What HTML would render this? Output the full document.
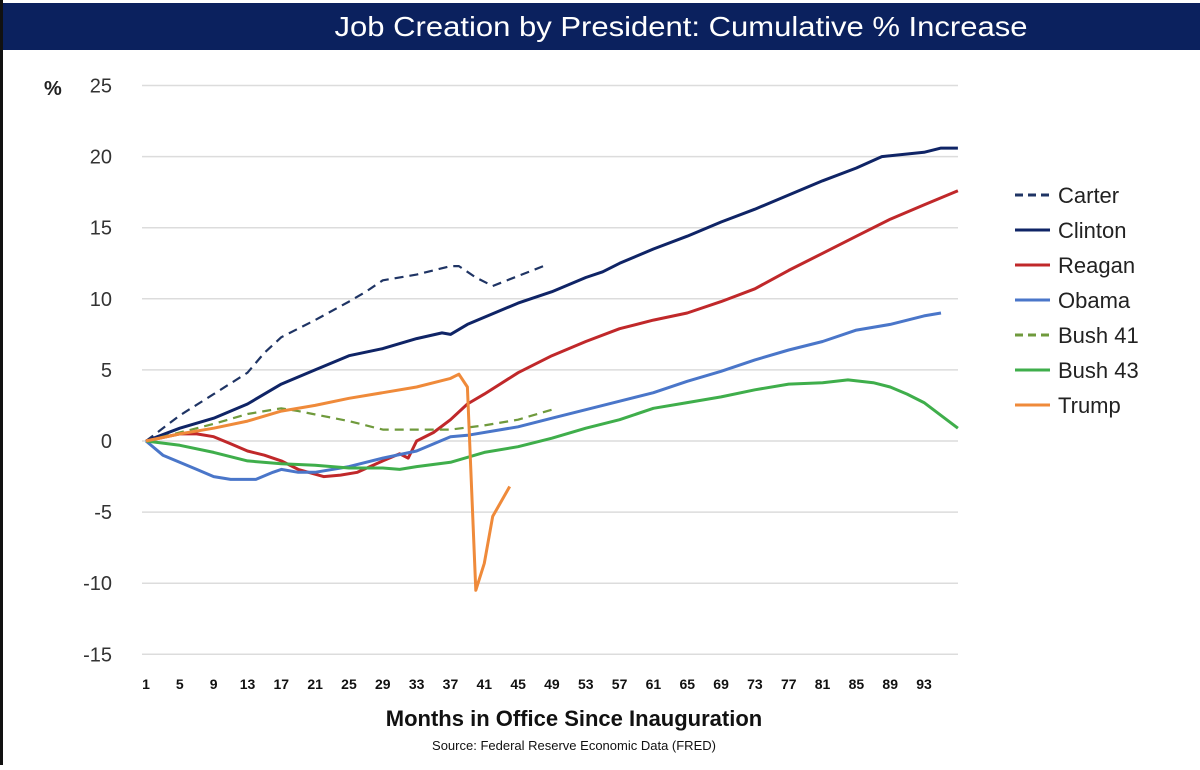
<!DOCTYPE html>
<html><head><meta charset="utf-8"><style>
html,body{margin:0;padding:0;background:#fff;}
svg text{font-family:"Liberation Sans",sans-serif;}
</style></head><body>
<svg id="chart" width="1200" height="765" viewBox="0 0 1200 765" xmlns="http://www.w3.org/2000/svg">
<rect x="0" y="0" width="1200" height="765" fill="#fff"/>
<rect x="0" y="3" width="1200" height="47" fill="#0b215e"/>
<rect x="0" y="0" width="3" height="765" fill="#111"/>
<text x="681" y="36" fill="#fff" font-size="28" text-anchor="middle" textLength="693" lengthAdjust="spacingAndGlyphs">Job Creation by President:  Cumulative % Increase</text>
<text x="44" y="95" font-size="20" font-weight="bold" fill="#222">%</text>
<g id="grid"></g><g id="yticks"></g><g id="xticks"></g><g id="series"></g><g id="legend"></g>
<text x="574" y="726" font-size="22" font-weight="bold" text-anchor="middle" fill="#111">Months in Office Since Inauguration</text>
<text x="574" y="750" font-size="13" text-anchor="middle" fill="#111">Source:  Federal Reserve Economic Data (FRED)</text>
</svg>
<script>
const yTicks=[25,20,15,10,5,0,-5,-10,-15];
const xTickLabels=[1,5,9,13,17,21,25,29,33,37,41,45,49,53,57,61,65,69,73,77,81,85,89,93];
const names=["Carter","Clinton","Reagan","Obama","Bush 41","Bush 43","Trump"];
const colors=["#1f3464","#0f2466","#c0282a","#4a76c9","#6f9a3c","#3fae4b","#ef8a3a"];
const dashed=[true,false,false,false,true,false,false];
const carterM=[1,5,9,13,15,17,21,25,27,29,33,37,38,40,42,45,48];
const carterV=[0,1.8,3.3,4.8,6.2,7.3,8.5,9.8,10.5,11.3,11.7,12.3,12.3,11.5,10.9,11.6,12.3];
const clintonM=[1,5,9,13,17,21,25,29,33,36,37,39,45,49,53,55,57,61,65,69,73,77,81,85,88,93,95,97];
const clintonV=[0,0.9,1.6,2.6,4.0,5.0,6.0,6.5,7.2,7.6,7.5,8.2,9.7,10.5,11.5,11.9,12.5,13.5,14.4,15.4,16.3,17.3,18.3,19.2,20.0,20.3,20.6,20.6];
const reaganM=[1,5,7,9,11,13,15,17,19,22,24,26,29,31,32,33,35,37,39,41,45,49,53,57,61,65,69,73,77,81,85,89,93,97];
const reaganV=[0,0.5,0.5,0.3,-0.2,-0.7,-1.0,-1.4,-2.0,-2.5,-2.4,-2.2,-1.4,-0.9,-1.2,0,0.6,1.5,2.6,3.3,4.8,6.0,7.0,7.9,8.5,9.0,9.8,10.7,12.0,13.2,14.4,15.6,16.6,17.6];
const obamaM=[1,3,7,9,11,14,16,17,19,21,25,29,33,37,39,45,49,53,57,61,65,69,73,77,81,85,89,93,95];
const obamaV=[0,-1.0,-2.0,-2.5,-2.7,-2.7,-2.2,-2.0,-2.2,-2.2,-1.8,-1.2,-0.7,0.3,0.4,1.0,1.6,2.2,2.8,3.4,4.2,4.9,5.7,6.4,7.0,7.8,8.2,8.8,9.0];
const bush41M=[1,5,9,13,17,19,25,29,33,37,41,45,49];
const bush41V=[0,0.6,1.2,1.9,2.3,2.1,1.4,0.8,0.8,0.8,1.1,1.5,2.2];
const bush43M=[1,5,9,13,17,21,25,29,31,33,37,41,45,49,53,57,61,65,69,73,77,81,84,87,89,91,93,95,97];
const bush43V=[0,-0.3,-0.8,-1.4,-1.6,-1.7,-1.9,-1.9,-2.0,-1.8,-1.5,-0.8,-0.4,0.2,0.9,1.5,2.3,2.7,3.1,3.6,4.0,4.1,4.3,4.1,3.8,3.3,2.7,1.8,0.9];
const trumpM=[1,5,9,13,17,21,25,29,33,37,38,39,40,41,42,44];
const trumpV=[0,0.5,0.9,1.4,2.1,2.5,3.0,3.4,3.8,4.4,4.7,3.8,-10.5,-8.6,-5.3,-3.2];
const months=[carterM,clintonM,reaganM,obamaM,bush41M,bush43M,trumpM];
const values=[carterV,clintonV,reaganV,obamaV,bush41V,bush43V,trumpV];
const NS="http://www.w3.org/2000/svg";
const X=m=>146+(m-1)*8.457;
const Y=v=>441-v*14.22;
function mk(tag,attrs,parent){const e=document.createElementNS(NS,tag);for(const k in attrs)e.setAttribute(k,attrs[k]);document.getElementById(parent).appendChild(e);return e;}
yTicks.forEach(t=>{
 const g=mk('line',{x1:142,x2:958,y1:Y(t),y2:Y(t),stroke:'#dcdcdc','stroke-width':1.5},'grid');
 
 
 const tx=mk('text',{x:112,y:Y(t)+7,'font-size':20,'text-anchor':'end',fill:'#333'},'yticks');
 tx.textContent=t;
 
 
});
xTickLabels.forEach(m=>{
 const tx=mk('text',{x:X(m),y:689,'font-size':14,'font-weight':'bold','text-anchor':'middle',fill:'#111'},'xticks');
 tx.textContent=m;
 
 
});
names.forEach((n,i)=>{
 const pts=months[i].map((m,j)=>X(m).toFixed(1)+','+Y(values[i][j]).toFixed(1)).join(' ');
 const p=mk('polyline',{points:pts,fill:'none',stroke:colors[i],'stroke-width':3,'stroke-linejoin':'round'},'series');
 if(dashed[i])p.setAttribute('stroke-dasharray','9,6');
 if(dashed[i])p.setAttribute('stroke-width','2.2');
 
 
 const ly=195+i*35;
 const l=mk('line',{x1:1015,x2:1050,y1:ly,y2:ly,stroke:colors[i],'stroke-width':3},'legend');
 if(dashed[i])l.setAttribute('stroke-dasharray','8,5');
 
 
 const t=mk('text',{x:1058,y:ly+8,'font-size':22,fill:'#222'},'legend');
 t.textContent=n;
 
 
});
</script>
</body></html>
